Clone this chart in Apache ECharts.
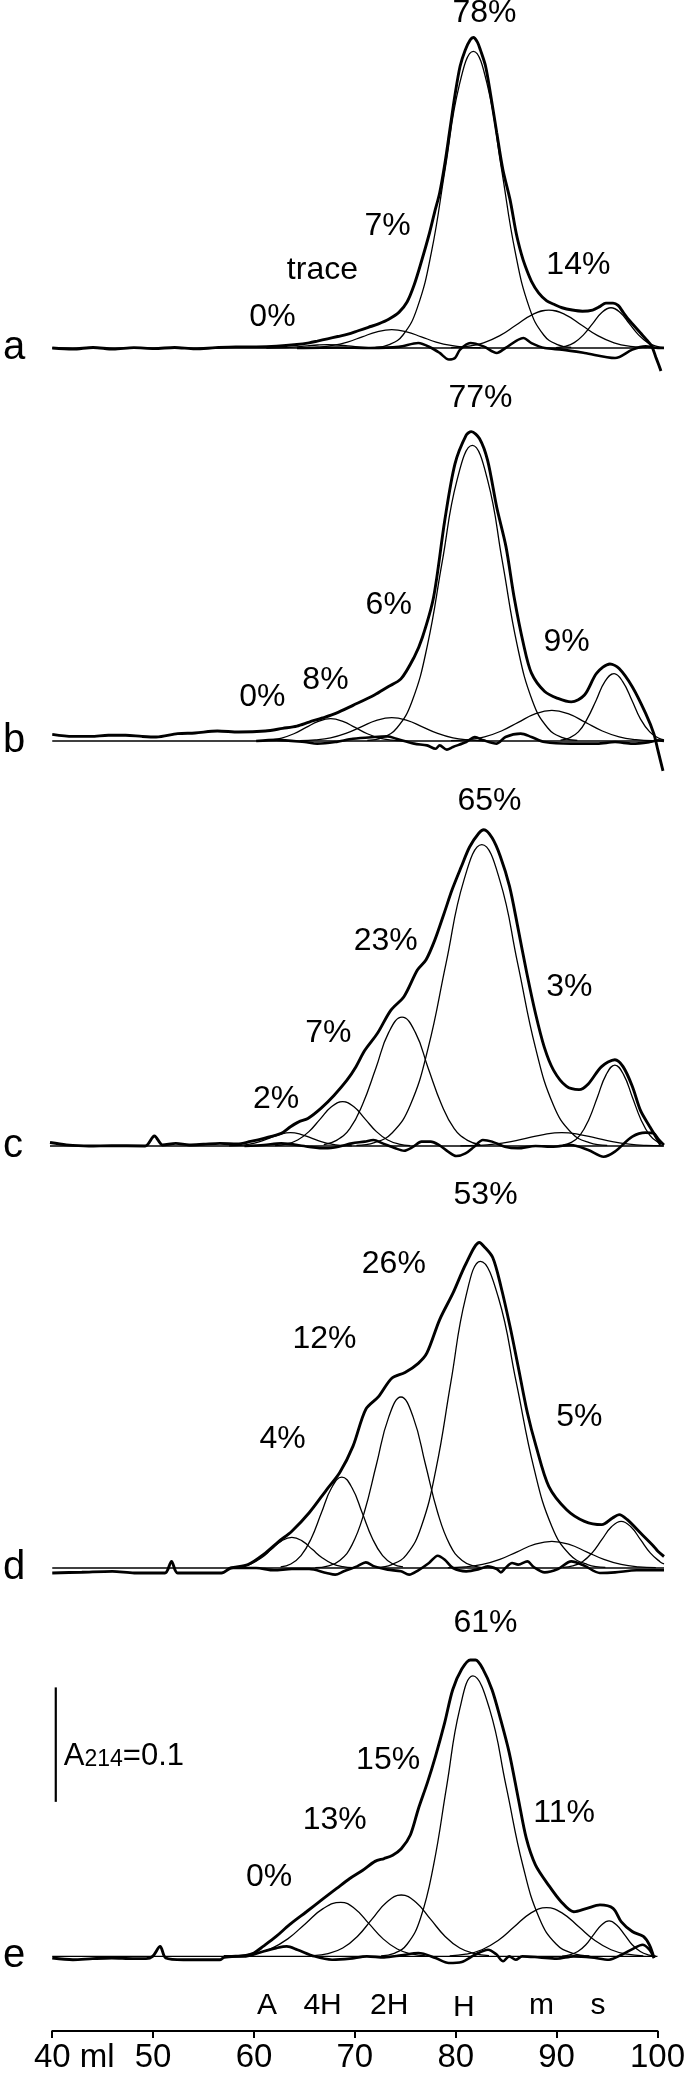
<!DOCTYPE html>
<html><head><meta charset="utf-8">
<script src="https://cdn.jsdelivr.net/npm/echarts@6/dist/echarts.min.js"></script>
<style>html,body{margin:0;padding:0;background:#fff}#c{width:688px;height:2074px}</style>
</head><body><div id="c"></div>
<script>
// ---------- axis data ----------
const xTickValues = [40, 50, 60, 70, 80, 90, 100];
const xTickLabels = ['40', '50', '60', '70', '80', '90', '100'];
const xUnit = ' ml';
const panelLetters = ['a', 'b', 'c', 'd', 'e'];
const peakNames = ['A', '4H', '2H', 'H', 'm', 's'];
const peakNameX = [61.3, 66.8, 73.4, 80.8, 88.5, 94.1];
const peakNameY = [-0.043, -0.043, -0.043, -0.045, -0.043, -0.043];
const scaleBar = [[40.35, 0.135], [40.35, 0.235]];
const scaleBarLabel = [41.14, 0.1748];

// ---------- panel a ----------
const totalA = [[40,0],[42,-0.001],[44,0.0005],[46,-0.001],[48,0.0003],[50,-0.0005],[52,0.0005],[54,-0.0008],[56,0.0003],[58,0.001],[60,0.001],[62,0.0015],[64,0.003],[65.2,0.0045],[66,0.006],[67,0.008],[68,0.010],[69,0.012],[70,0.015],[71,0.018],[72,0.021],[73,0.025],[74,0.031],[74.8,0.040],[75.5,0.055],[76.2,0.075],[77,0.100],[77.5,0.118],[78,0.135],[78.5,0.160],[79,0.190],[79.5,0.220],[80,0.245],[80.5,0.259],[81,0.268],[81.3,0.270],[81.7,0.266],[82,0.259],[82.5,0.245],[83,0.220],[83.6,0.187],[84.2,0.155],[84.9,0.129],[85.5,0.100],[86,0.082],[86.4,0.071],[87,0.058],[87.7,0.048],[88.5,0.041],[89.2,0.038],[90,0.035],[91,0.033],[92,0.032],[93,0.033],[93.7,0.036],[94.3,0.039],[95,0.039],[95.5,0.037],[96,0.031],[96.5,0.025],[97,0.020],[97.7,0.013],[98.3,0.007],[98.8,0.0015],[99.2,-0.008],[99.5,-0.015],[99.7,-0.020]];
const compA_trace = [[61,0],[63,0.0004],[65,0.0018],[66,0.0026],[67,0.003],[68,0.0026],[69,0.0018],[71,0.0004],[73,0]];
const compA_2H = [[64.6,0.0002],[66.05,0.0007],[67.5,0.0022],[68.95,0.0052],[70.4,0.0097],[71.85,0.0141],[73.3,0.016],[74.75,0.0141],[76.2,0.0097],[77.65,0.0052],[79.1,0.0022],[80.55,0.0007],[82,0.0002]];
const compA_H = [[71.7,0.0006],[73.05,0.0029],[74.4,0.0113],[75.8,0.0349],[77.2,0.0838],[78.55,0.1565],[79.9,0.2277],[81.3,0.258],[82.7,0.2277],[84.05,0.1565],[85.4,0.0838],[86.8,0.0349],[88.2,0.0113],[89.55,0.0029],[90.9,0.0006]];
const compA_m = [[79.1,0.0004],[80.7,0.0014],[82.3,0.0045],[83.9,0.0107],[85.5,0.0200],[87.1,0.0291],[88.7,0.033],[90.3,0.0291],[91.9,0.0200],[93.5,0.0107],[95.1,0.0045],[96.7,0.0014],[98.3,0.0004]];
const compA_s = [[89.4,0.0004],[90.3,0.0015],[91.2,0.0047],[92.1,0.0114],[93.0,0.0212],[93.9,0.0309],[94.8,0.035],[95.7,0.0309],[96.6,0.0212],[97.5,0.0114],[98.4,0.0047],[99.3,0.0015],[100,0.0005]];
const residA = [[64,0],[68,0.0005],[71.2,0],[74,0.001],[75.9,0.0043],[77.2,0],[78.0,-0.0043],[78.9,-0.010],[79.5,-0.0087],[80.0,-0.0014],[81.0,0.0043],[82.3,0.0014],[83.6,-0.0043],[84.45,0],[86.2,0.0087],[87.0,0.0043],[88.3,0],[90.0,-0.0014],[92.2,-0.0043],[95.2,-0.0087],[96.9,-0.0014],[98.2,0.0014],[99.4,0],[100,0]];
const labelsA = [[61.6,0.027,'0%'],[66.5,0.068,'trace'],[72.9,0.106,'7%'],[82.4,0.291,'78%'],[91.6,0.072,'14%']];

// ---------- panel b ----------
const totalB = [[40,0.0058],[42,0.004],[43.8,0.004],[45.5,0.005],[47.2,0.005],[48.8,0.004],[50.2,0.0035],[52.3,0.0064],[54,0.007],[56.2,0.0087],[58.3,0.0078],[60.9,0.0087],[62.6,0.011],[64,0.013],[65.2,0.0165],[66.5,0.020],[67.8,0.024],[69.5,0.031],[71.6,0.040],[72.9,0.047],[74.2,0.054],[75.5,0.073],[76.3,0.090],[77.4,0.125],[78.5,0.192],[79.5,0.241],[80.6,0.266],[81.1,0.269],[81.9,0.263],[82.7,0.244],[83.6,0.203],[84.5,0.169],[85.3,0.125],[86.2,0.085],[87.0,0.059],[88.3,0.043],[89.6,0.037],[90.9,0.034],[92.2,0.040],[93.4,0.059],[94.7,0.067],[95.6,0.063],[96.9,0.047],[98.2,0.024],[99.0,0.0064],[99.4,-0.008],[99.9,-0.026]];
const compB_4H = [[60.1,0.0002],[61.3,0.00085],[62.5,0.0026],[63.7,0.0063],[64.9,0.0118],[66.1,0.0171],[67.3,0.0194],[68.5,0.0171],[69.7,0.0118],[70.9,0.0063],[72.1,0.0026],[73.3,0.00085],[74.5,0.0002]];
const compB_2H = [[64.3,0.0002],[65.8,0.0009],[67.3,0.0027],[68.8,0.0066],[70.3,0.0123],[71.8,0.0179],[73.3,0.0203],[74.8,0.0179],[76.3,0.0123],[77.8,0.0066],[79.3,0.0027],[80.8,0.0009],[82.3,0.0002]];
const compB_H = [[70.9,0.0006],[72.35,0.0029],[73.8,0.0113],[75.3,0.0348],[76.8,0.0834],[78.25,0.1559],[79.7,0.2268],[81.2,0.257],[82.7,0.2268],[84.15,0.1559],[85.6,0.0834],[87.1,0.0348],[88.6,0.0113],[90.05,0.0029],[91.5,0.0006]];
const compB_m = [[79.1,0.0003],[80.75,0.0012],[82.4,0.0036],[84.05,0.0087],[85.7,0.0162],[87.35,0.0236],[89.0,0.0267],[90.65,0.0236],[92.3,0.0162],[93.95,0.0087],[95.6,0.0036],[97.25,0.0012],[98.9,0.0003]];
const compB_s = [[89.85,0.0007],[90.7,0.0026],[91.6,0.0079],[92.45,0.0190],[93.35,0.0355],[94.2,0.0517],[95.1,0.0586],[95.95,0.0517],[96.85,0.0355],[97.7,0.0190],[98.6,0.0079],[99.45,0.0026],[100,0.001]];
const residB = [[60,0],[62,0.001],[64.75,-0.0009],[66.0,-0.0023],[67.75,-0.0009],[69.5,0.002],[71.6,0.0035],[72.9,0.004],[73.75,0.002],[75.5,-0.0023],[76.75,-0.0038],[77.6,-0.0067],[78.0,-0.0038],[78.7,-0.0075],[79.3,-0.0052],[80.6,-0.0009],[81.45,0.0035],[82.3,0.0006],[83.6,-0.0023],[84.45,0.0035],[85.95,0.0064],[87.0,0.0035],[88.3,-0.0009],[90.9,-0.0023],[93.45,-0.0023],[95.2,-0.0009],[96.9,-0.0023],[98.6,-0.0009],[99.4,0.0006],[100,0]];
const labelsB = [[60.6,0.038,'0%'],[66.8,0.053,'8%'],[73.0,0.118,'6%'],[82.0,0.298,'77%'],[90.45,0.086,'9%']];

// ---------- panel c ----------
const totalC = [[40,0.003],[41.6,0.001],[43.8,0],[46,0.0003],[49.3,0],[50.2,0.0087],[51.0,0.0009],[52.3,0.0023],[53.6,0.0009],[55,0.0015],[56.6,0.0023],[58.3,0.0017],[59.6,0.004],[60.9,0.0067],[62.6,0.011],[63.5,0.0168],[64.3,0.021],[65.2,0.024],[66.5,0.033],[67.75,0.044],[69.0,0.057],[69.9,0.069],[70.75,0.083],[72.0,0.098],[73.3,0.118],[74.6,0.130],[75.9,0.153],[76.75,0.162],[77.6,0.179],[78.5,0.202],[79.3,0.223],[80.2,0.243],[81.0,0.260],[81.9,0.272],[82.4,0.275],[83.2,0.268],[84.0,0.252],[84.9,0.226],[85.7,0.191],[86.6,0.150],[87.45,0.115],[88.3,0.086],[89.2,0.066],[90.45,0.052],[91.7,0.049],[92.6,0.054],[93.9,0.069],[95.2,0.075],[96.0,0.069],[96.9,0.052],[97.7,0.031],[98.6,0.017],[99.4,0.005],[99.66,0.001]];
const compC_A = [[57.5,0.0001],[58.5,0.0005],[59.5,0.0016],[60.5,0.0038],[61.5,0.0070],[62.5,0.0102],[63.5,0.0116],[64.5,0.0102],[65.5,0.0070],[66.5,0.0038],[67.5,0.0016],[68.5,0.0005],[69.5,0.0001]];
const compC_4H = [[62.0,0.0004],[63.1,0.0017],[64.2,0.0052],[65.3,0.0125],[66.4,0.0234],[67.5,0.0341],[68.6,0.0386],[69.7,0.0341],[70.8,0.0234],[71.9,0.0125],[73.0,0.0052],[74.1,0.0017],[75.2,0.0004]];
const compC_2H = [[66.75,0.0012],[68.0,0.0049],[69.3,0.0152],[70.55,0.0364],[71.85,0.0679],[73.1,0.0988],[74.4,0.112],[75.7,0.0988],[76.95,0.0679],[78.25,0.0364],[79.5,0.0152],[80.8,0.0049],[82.05,0.0012]];
const compC_H = [[69.95,0.0006],[71.7,0.0029],[73.45,0.0115],[75.2,0.0354],[76.95,0.0851],[78.7,0.1589],[80.45,0.2312],[82.2,0.262],[83.95,0.2312],[85.7,0.1589],[87.45,0.0851],[89.2,0.0354],[90.95,0.0115],[92.7,0.0029],[94.45,0.0006]];
const compC_m = [[80.1,0.0001],[81.75,0.0005],[83.4,0.0016],[85.05,0.0038],[86.7,0.0070],[88.35,0.0102],[90.0,0.0116],[91.65,0.0102],[93.3,0.0070],[94.95,0.0038],[96.6,0.0016],[98.25,0.0005],[99.9,0.0001]];
const compC_s = [[90.1,0.0008],[90.95,0.0031],[91.8,0.0095],[92.65,0.0229],[93.5,0.0427],[94.35,0.0621],[95.2,0.0704],[96.05,0.0621],[96.9,0.0427],[97.75,0.0229],[98.6,0.0095],[99.45,0.0031],[100,0.0012]];
const residC = [[59,0],[60.9,0.0009],[62.6,0.0023],[65.2,-0.0006],[66.9,-0.002],[68.2,-0.0006],[69.5,0.0023],[70.75,0.0038],[71.6,0.0052],[72.5,0.0023],[73.75,-0.002],[74.6,-0.0041],[75.5,-0.0006],[76.3,0.0038],[77.2,0.0038],[78.0,0.0009],[78.9,-0.0049],[79.7,-0.0087],[80.6,-0.0064],[81.45,-0.0006],[82.3,0.0052],[83.2,0.0038],[84.45,-0.0006],[85.7,-0.002],[87.45,0],[89.2,-0.0006],[90.9,0.0009],[92.6,-0.0035],[94.1,-0.0093],[95.2,-0.0049],[96.9,0.0081],[98.2,0.0116],[99.0,0.011],[99.4,0.0067],[100,0.001]];
const labelsC = [[62.1,0.041,'2%'],[67.2,0.098,'7%'],[72.8,0.178,'23%'],[82.95,0.300,'65%'],[90.75,0.138,'3%']];

// ---------- panel d ----------
const totalD = [[40,-0.0043],[42.9,-0.0037],[45.9,-0.0029],[48.05,-0.0043],[51.05,-0.0043],[51.7,0.0058],[52.3,-0.0043],[56.6,-0.0043],[57.5,0],[59.2,0.003],[60.9,0.013],[62.2,0.023],[63.5,0.032],[65.2,0.048],[66.9,0.068],[68.2,0.083],[69.5,0.106],[70.75,0.138],[72.0,0.149],[73.3,0.165],[74.6,0.170],[75.9,0.178],[76.75,0.187],[78.0,0.216],[79.3,0.239],[80.6,0.265],[81.9,0.283],[82.3,0.280],[83.2,0.270],[84.0,0.245],[84.9,0.210],[85.7,0.175],[86.6,0.135],[87.45,0.106],[88.7,0.071],[90.45,0.0507],[92.2,0.0406],[93.9,0.0377],[94.95,0.0435],[95.6,0.0464],[96.4,0.042],[97.7,0.0304],[99.0,0.0188],[99.4,0.0145],[100,0.01]];
const compD_A = [[57.5,0.0003],[58.5,0.0012],[59.5,0.0036],[60.5,0.0087],[61.5,0.0162],[62.5,0.0236],[63.5,0.0267],[64.5,0.0236],[65.5,0.0162],[66.5,0.0087],[67.5,0.0036],[68.5,0.0012],[69.5,0.0003]];
const compD_4H = [[62.4,0.0009],[63.4,0.0035],[64.4,0.0107],[65.4,0.0257],[66.4,0.0480],[67.4,0.0698],[68.4,0.0791],[69.4,0.0698],[70.4,0.0480],[71.4,0.0257],[72.4,0.0107],[73.4,0.0035],[74.4,0.0009]];
const compD_2H = [[65.8,0.0003],[67.0,0.0017],[68.2,0.0065],[69.4,0.0201],[70.6,0.0483],[71.8,0.0902],[73.0,0.1312],[74.2,0.1487],[75.4,0.1312],[76.6,0.0902],[77.8,0.0483],[79.0,0.0201],[80.2,0.0065],[81.4,0.0017],[82.6,0.0003]];
const compD_H = [[71.85,0.0006],[73.3,0.0030],[74.75,0.0117],[76.2,0.0361],[77.65,0.0866],[79.1,0.1618],[80.55,0.2354],[82.0,0.2667],[83.75,0.2354],[85.5,0.1618],[87.25,0.0866],[89.0,0.0361],[90.75,0.0117],[92.5,0.0030],[94.25,0.0006]];
const compD_m = [[78.8,0.0003],[80.5,0.0010],[82.2,0.0031],[83.9,0.0075],[85.6,0.0141],[87.3,0.0205],[89.0,0.0232],[90.7,0.0205],[92.4,0.0141],[94.1,0.0075],[95.8,0.0031],[97.5,0.0010],[99.2,0.0003]];
const compD_s = [[90.1,0.0005],[91.05,0.0018],[92.0,0.0055],[92.95,0.0132],[93.9,0.0246],[94.85,0.0358],[95.8,0.0406],[96.75,0.0358],[97.7,0.0246],[98.65,0.0132],[99.6,0.0055],[100,0.0035]];
const residD = [[57.5,0],[60.0,0],[61.75,-0.002],[63.5,-0.0009],[65.2,-0.0009],[66.9,-0.0043],[67.75,-0.0058],[68.6,-0.0029],[69.9,0.0014],[70.75,0.0049],[71.6,0.0014],[72.9,-0.0014],[74.2,-0.0029],[75.0,-0.0058],[75.9,-0.002],[76.95,0.0043],[77.8,0.0107],[78.5,0.0072],[79.3,0],[80.6,-0.0029],[81.9,-0.0009],[82.7,0.0014],[83.6,-0.0009],[84.0,-0.0038],[84.45,0],[85.1,0.0043],[85.7,0.0029],[86.6,0.0058],[87.2,0.0009],[88.3,-0.0038],[89.6,-0.0009],[90.9,0.0058],[92.2,0.002],[93.7,-0.0043],[95.2,-0.0038],[97.3,-0.002],[99.4,-0.002],[100,-0.002]];
const labelsD = [[62.6,0.112,'4%'],[66.7,0.199,'12%'],[73.5,0.264,'26%'],[82.5,0.324,'53%'],[91.7,0.131,'5%']];

// ---------- panel e ----------
const totalE = [[40,-0.0014],[42.05,-0.0029],[44,-0.002],[45.9,-0.0014],[48,-0.002],[49.3,-0.002],[49.95,0],[50.7,0.0087],[51.25,-0.0014],[53,-0.003],[56.6,-0.003],[57.05,-0.0009],[59.2,0.0009],[60.0,0.003],[60.9,0.0087],[62.2,0.0174],[63.5,0.0275],[65.2,0.039],[66.9,0.0507],[68.2,0.0594],[69.5,0.068],[70.75,0.075],[72.0,0.083],[72.9,0.0855],[73.75,0.0884],[74.6,0.094],[75.5,0.106],[76.3,0.129],[77.2,0.152],[78.0,0.175],[78.9,0.204],[79.7,0.233],[80.6,0.251],[81.45,0.259],[81.97,0.259],[82.7,0.251],[83.6,0.233],[84.45,0.207],[85.3,0.178],[86.2,0.138],[87.0,0.103],[87.9,0.080],[89.2,0.0623],[90.45,0.0478],[91.7,0.039],[93.0,0.042],[94.3,0.045],[95.6,0.042],[96.4,0.0304],[97.5,0.0217],[98.6,0.0174],[99.2,0.010],[99.66,-0.0014]];
const compE_4H = [[58.1,0.0005],[59.85,0.0021],[61.6,0.0064],[63.35,0.0153],[65.1,0.0286],[66.85,0.0417],[68.6,0.0472],[70.0,0.0417],[71.4,0.0286],[72.8,0.0153],[74.2,0.0064],[75.6,0.0021],[77.0,0.0005]];
const compE_2H = [[65.9,0.0006],[67.35,0.0024],[68.8,0.0073],[70.25,0.0174],[71.7,0.0325],[73.15,0.0473],[74.6,0.0536],[76.05,0.0473],[77.5,0.0325],[78.95,0.0174],[80.4,0.0073],[81.85,0.0024],[83.3,0.0006]];
const compE_H = [[72.6,0.0005],[73.9,0.0027],[75.2,0.0108],[76.5,0.0331],[77.8,0.0796],[79.1,0.1486],[80.4,0.2162],[81.7,0.245],[83.35,0.2162],[85.0,0.1486],[86.65,0.0796],[88.3,0.0331],[89.95,0.0108],[91.6,0.0027],[93.25,0.0005]];
const compE_m = [[79.4,0.0005],[81.0,0.0019],[82.6,0.0058],[84.2,0.0138],[85.8,0.0258],[87.4,0.0376],[89.0,0.0426],[90.6,0.0376],[92.2,0.0258],[93.8,0.0138],[95.4,0.0058],[97.0,0.0019],[98.6,0.0005]];
const compE_s = [[90.55,0.0003],[91.3,0.0014],[92.1,0.0042],[92.9,0.0101],[93.65,0.0188],[94.45,0.0274],[95.2,0.031],[95.95,0.0274],[96.75,0.0188],[97.5,0.0101],[98.3,0.0042],[99.05,0.0014],[99.85,0.0003]];
const residE = [[57,0],[59.2,0],[60.9,0.0043],[62.2,0.0072],[63.25,0.0087],[64.3,0.0058],[66.0,0],[67.75,-0.0029],[69.5,-0.002],[71.2,0],[72.9,-0.0009],[74.6,0.0009],[76.3,0.0029],[78.0,-0.0014],[79.3,-0.0058],[80.6,-0.0049],[81.9,0.0014],[83.2,0.0058],[84.0,0.002],[84.7,-0.0043],[85.3,0],[85.95,-0.0029],[86.6,0],[88.3,-0.0009],[90.0,-0.002],[91.7,0],[93.45,-0.0009],[95.2,-0.0029],[96.45,0.0014],[97.7,0.0072],[98.5,0.0101],[99.2,0.0058],[99.66,-0.0014]];
const labelsE = [[61.5,0.069,'0%'],[68.0,0.119,'13%'],[73.3,0.171,'15%'],[82.95,0.291,'61%'],[90.75,0.1255,'11%']];

// ---------- assembly ----------
const panels = [
  { total: totalA, comps: [compA_trace, compA_2H, compA_H, compA_m, compA_s], resid: residA, labels: labelsA },
  { total: totalB, comps: [compB_4H, compB_2H, compB_H, compB_m, compB_s], resid: residB, labels: labelsB },
  { total: totalC, comps: [compC_A, compC_4H, compC_2H, compC_H, compC_m, compC_s], resid: residC, labels: labelsC },
  { total: totalD, comps: [compD_A, compD_4H, compD_2H, compD_H, compD_m, compD_s], resid: residD, labels: labelsD },
  { total: totalE, comps: [compE_4H, compE_2H, compE_H, compE_m, compE_s], resid: residE, labels: labelsE }
];

// layout (pixels)
const baselinePx = [348, 741, 1146, 1568, 1958];
const pxPerUnit = 1150;          // 0.1 A214 ~ 115 px
const yMin = -0.0652, yMax = 0.30;
const gridLeft = 49, gridRight = 24;
const BLACK = '#000';
const FONT = "'Liberation Sans', Arial, Helvetica, sans-serif";
const noBorder = { textBorderWidth: 0, textBorderColor: 'transparent', textShadowBlur: 0 };
const solidItem = { color: BLACK, opacity: 1 };

const grids = [], xAxes = [], yAxes = [], series = [];
panels.forEach((p, i) => {
  const last = i === panels.length - 1;
  grids.push({
    left: gridLeft, right: gridRight,
    top: baselinePx[i] - yMax * pxPerUnit,
    height: (yMax - yMin) * pxPerUnit,
    containLabel: false
  });
  xAxes.push({
    type: 'value', gridIndex: i,
    min: xTickValues[0], max: xTickValues[xTickValues.length - 1], interval: 10,
    show: last,
    splitLine: { show: false },
    axisLine: { show: last, onZero: false, lineStyle: { color: BLACK, width: 2 } },
    axisTick: { show: last, inside: false, length: 7, lineStyle: { color: BLACK, width: 2 } },
    axisLabel: {
      show: last, margin: 10, color: BLACK, fontSize: 33, fontFamily: FONT,
      formatter: v => {
        const k = xTickValues.indexOf(v);
        if (k < 0) return '';
        if (k === 0) return '{n|' + xTickLabels[0] + '}{u|' + xUnit + '}';
        return xTickLabels[k];
      },
      rich: {
        n: { fontSize: 33, fontFamily: FONT, color: BLACK, padding: [0, 0, 0, 44] },
        u: { fontSize: 33, fontFamily: FONT, color: BLACK }
      }
    }
  });
  yAxes.push({
    type: 'value', gridIndex: i, min: yMin, max: yMax,
    splitLine: { show: false },
    axisLine: { show: false }, axisTick: { show: false },
    axisLabel: {
      show: true, customValues: [0], margin: 27,
      color: BLACK, fontSize: 40, fontFamily: FONT,
      formatter: v => (Math.abs(v) < 1e-9 ? panelLetters[i] : '')
    }
  });
  // baseline
  series.push({
    type: 'line', xAxisIndex: i, yAxisIndex: i, symbol: 'none', silent: true, clip: false,
    data: [[xTickValues[0], 0], [xTickValues[xTickValues.length - 1], 0]],
    lineStyle: { color: BLACK, width: 1.3 }, animation: false
  });
  // fitted components (thin)
  p.comps.forEach(c => series.push({
    type: 'line', xAxisIndex: i, yAxisIndex: i, symbol: 'none', silent: true, clip: false,
    smooth: 0.45, data: c, lineStyle: { color: BLACK, width: 1.3 }, animation: false
  }));
  // residual (thick)
  series.push({
    type: 'line', xAxisIndex: i, yAxisIndex: i, symbol: 'none', silent: true, clip: false,
    smooth: 0.3, data: p.resid, lineStyle: { color: BLACK, width: 2.6 }, animation: false
  });
  // measured trace (thick)
  series.push({
    type: 'line', xAxisIndex: i, yAxisIndex: i, symbol: 'none', silent: true, clip: false,
    smooth: 0.3, data: p.total, lineStyle: { color: BLACK, width: 2.9 }, animation: false
  });
  // percentage labels
  series.push({
    type: 'scatter', xAxisIndex: i, yAxisIndex: i, symbolSize: 0, silent: true, clip: false,
    itemStyle: solidItem,
    data: p.labels.map(l => ({ name: l[2], value: [l[0], l[1]] })),
    label: Object.assign({ show: true, position: 'inside', formatter: '{b}', color: BLACK, fontSize: 32, fontFamily: FONT }, noBorder),
    animation: false
  });
});

// scale bar (in panel e)
const ei = panels.length - 1;
series.push({
  type: 'line', xAxisIndex: ei, yAxisIndex: ei, symbol: 'none', silent: true, clip: false,
  data: scaleBar, lineStyle: { color: BLACK, width: 2.2 }, animation: false
});
series.push({
  type: 'scatter', xAxisIndex: ei, yAxisIndex: ei, symbolSize: 0, silent: true, clip: false,
  itemStyle: solidItem,
  data: [{ name: 'A214', value: scaleBarLabel }],
  label: Object.assign({
    show: true, position: 'right', distance: 0,
    formatter: '{a|A}{s|214}{a|=0.1}',
    rich: {
      a: Object.assign({ fontSize: 31, fontFamily: FONT, color: BLACK, verticalAlign: 'top', lineHeight: 30, padding: [0, 0, 5, 0] }, noBorder),
      s: Object.assign({ fontSize: 23, fontFamily: FONT, color: BLACK, verticalAlign: 'bottom', lineHeight: 22 }, noBorder)
    }
  }, noBorder),
  animation: false
});
// peak names under panel e
series.push({
  type: 'scatter', xAxisIndex: ei, yAxisIndex: ei, symbolSize: 0, silent: true, clip: false,
  itemStyle: solidItem,
  data: peakNames.map((n, k) => ({ name: n, value: [peakNameX[k], peakNameY[k]] })),
  label: Object.assign({ show: true, position: 'inside', formatter: '{b}', color: BLACK, fontSize: 30, fontFamily: FONT }, noBorder),
  animation: false
});

const chart = echarts.init(document.getElementById('c'), null, { renderer: 'canvas', width: 688, height: 2074 });
chart.setOption({
  backgroundColor: '#fff',
  animation: false,
  grid: grids, xAxis: xAxes, yAxis: yAxes, series: series
});
</script>
</body></html>
